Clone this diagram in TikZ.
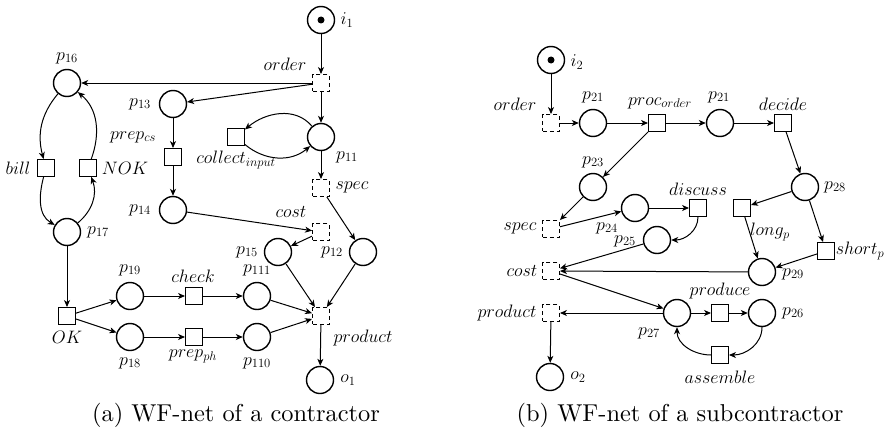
\RequirePackage{fix-cm}
\documentclass[tikz,border=0pt]{standalone}
\usepackage{fontspec}
\newfontfamily\capfont{lmroman10-regular.otf}
\usetikzlibrary{arrows.meta}
\begin{document}
\begin{tikzpicture}[x=1pt,y=-1pt,
  place/.style={circle,draw,line width=1.4pt,minimum size=27pt,inner sep=0pt},
  trans/.style={rectangle,draw,line width=1.4pt,minimum size=16.5pt,inner sep=0pt},
  silent/.style={trans,dash pattern=on 4pt off 3pt},
  flow/.style={-{Stealth[length=7pt,width=6pt,inset=2pt]},line width=1pt},
  lbl/.style={font=\fontsize{18}{20}\selectfont,inner sep=0pt},
  captxt/.style={font=\capfont\fontsize{24.4}{28}\selectfont,inner sep=0pt,anchor=base},
  token/.style={circle,fill,inner sep=0pt,minimum size=7pt}]
\useasboundingbox (0,0) rectangle (893,428);
% ---------- (a) ----------
\node[place] (i1) at (321,20) {};
\node[token] (i1t) at (i1) {};
\node[lbl] (li1) at (347,20) {$i_1$};
\node[silent] (order1) at (321,83) {};
\node[lbl] (lorder1) at (285,64) {$order$};
\node[place] (p11) at (321,137) {};
\node[lbl] (lp11) at (347,157) {$p_{11}$};
\node[silent] (spec1) at (321,188) {};
\node[lbl] (lspec1) at (352,187) {$spec$};
\node[trans] (collect) at (236,137) {};
\node[lbl] (lcollect) at (236,160) {$collect_{input}$};
\node[place] (p16) at (67,83) {};
\node[lbl] (lp16) at (67,58) {$p_{16}$};
\node[place] (p13) at (173,104) {};
\node[lbl] (lp13) at (140,104) {$p_{13}$};
\node[trans] (prepcs) at (173,157) {};
\node[lbl] (lprepcs) at (133,137) {$prep_{cs}$};
\node[place] (p14) at (173,210) {};
\node[lbl] (lp14) at (140,210) {$p_{14}$};
\node[trans] (bill) at (46,168) {};
\node[lbl] (lbill) at (18,168) {$bill$};
\node[trans] (nok) at (88,168) {};
\node[lbl] (lnok) at (125,168) {$NOK$};
\node[place] (p17) at (67,232) {};
\node[lbl] (lp17) at (98,232) {$p_{17}$};
\node[trans] (ok) at (67,316) {};
\node[lbl] (lok) at (67,337) {$OK$};
\node[place] (p19) at (130,296) {};
\node[lbl] (lp19) at (130,270) {$p_{19}$};
\node[place] (p18) at (130,337) {};
\node[lbl] (lp18) at (130,363) {$p_{18}$};
\node[trans] (check) at (194,296) {};
\node[lbl] (lcheck) at (193,276) {$check$};
\node[trans] (prepph) at (194,337) {};
\node[lbl] (lprepph) at (193,356) {$prep_{ph}$};
\node[place] (p111) at (257,296) {};
\node[lbl] (lp111) at (257,270) {$p_{111}$};
\node[place] (p110) at (257,337) {};
\node[lbl] (lp110) at (257,363) {$p_{110}$};
\node[silent] (product1) at (321,316) {};
\node[lbl] (lproduct1) at (363,338) {$product$};
\node[place] (o1) at (320,380) {};
\node[lbl] (lo1) at (348,380) {$o_1$};
\node[silent] (cost1) at (321,232) {};
\node[lbl] (lcost1) at (291,212) {$cost$};
\node[place] (p15) at (278,252) {};
\node[lbl] (lp15) at (247,252) {$p_{15}$};
\node[place] (p12) at (363,252) {};
\node[lbl] (lp12) at (332,252) {$p_{12}$};
\draw[flow] (i1) -- (order1);
\draw[flow] (order1) -- (p11);
\draw[flow] (p11) -- (spec1);
\draw[flow] (order1) -- (p16);
\draw[flow] (order1) -- (p13);
\draw[flow] (p11) to[out=130,in=40] (collect);
\draw[flow] (collect) to[out=-40,in=220] (p11);
\draw[flow] (p13) -- (prepcs);
\draw[flow] (prepcs) -- (p14);
\draw[flow] (p14) -- (cost1);
\draw[flow] (cost1) -- (p15);
\draw[flow] (spec1) -- (p12);
\draw[flow] (p15) -- (product1);
\draw[flow] (p12) -- (product1);
\draw[flow] (p111) -- (product1);
\draw[flow] (p110) -- (product1);
\draw[flow] (product1) -- (o1);
\draw[flow] (p16) to[out=230,in=105] (bill);
\draw[flow] (bill) to[out=255,in=150] (p17);
\draw[flow] (p17) to[out=40,in=-70] (nok);
\draw[flow] (nok) to[out=70,in=-40] (p16);
\draw[flow] (p17) -- (ok);
\draw[flow] (ok) -- (p19);
\draw[flow] (ok) -- (p18);
\draw[flow] (p19) -- (check);
\draw[flow] (check) -- (p111);
\draw[flow] (p18) -- (prepph);
\draw[flow] (prepph) -- (p110);
% ---------- (b) ----------
\node[place] (i2) at (551,60) {};
\node[token] (i2t) at (i2) {};
\node[lbl] (li2) at (577,62) {$i_2$};
\node[silent] (order2) at (551,123) {};
\node[lbl] (lorder2) at (515,104) {$order$};
\node[place] (p21a) at (593,123) {};
\node[lbl] (lp21a) at (593,97) {$p_{21}$};
\node[trans] (proc) at (657,123) {};
\node[lbl] (lproc) at (660,103) {$proc_{order}$};
\node[place] (p21b) at (720,123) {};
\node[lbl] (lp21b) at (719,97) {$p_{21}$};
\node[trans] (decide) at (783,123) {};
\node[lbl] (ldecide) at (783,104) {$decide$};
\node[place] (p28) at (805,187) {};
\node[lbl] (lp28) at (835,187) {$p_{28}$};
\node[place] (p23) at (593,187) {};
\node[lbl] (lp23) at (593,162) {$p_{23}$};
\node[silent] (spec2) at (551,229) {};
\node[lbl] (lspec2) at (520,228) {$spec$};
\node[place] (p24) at (635,208) {};
\node[lbl] (lp24) at (607,228) {$p_{24}$};
\node[trans] (discuss) at (698,208) {};
\node[lbl] (ldiscuss) at (698,189) {$discuss$};
\node[place] (p25) at (657,240) {};
\node[lbl] (lp25) at (625,241) {$p_{25}$};
\node[trans] (longp) at (742,208) {};
\node[lbl] (llongp) at (770,232) {$long_p$};
\node[trans] (shortp) at (826,251) {};
\node[lbl] (lshortp) at (860,251) {$short_p$};
\node[place] (p29) at (762,272) {};
\node[lbl] (lp29) at (793,274) {$p_{29}$};
\node[silent] (cost2) at (551,271) {};
\node[lbl] (lcost2) at (522,271) {$cost$};
\node[place] (p27) at (677,313) {};
\node[lbl] (lp27) at (649,333) {$p_{27}$};
\node[silent] (product2) at (551,313) {};
\node[lbl] (lproduct2) at (507,313) {$product$};
\node[place] (o2) at (550,377) {};
\node[lbl] (lo2) at (578,377) {$o_2$};
\node[trans] (produce) at (720,313) {};
\node[lbl] (lproduce) at (720,291) {$produce$};
\node[place] (p26) at (762,313) {};
\node[lbl] (lp26) at (793,313) {$p_{26}$};
\node[trans] (assemble) at (720,355) {};
\node[lbl] (lassemble) at (720,377) {$assemble$};
\draw[flow] (i2) -- (order2);
\draw[flow] (order2) -- (p21a);
\draw[flow] (p21a) -- (proc);
\draw[flow] (proc) -- (p21b);
\draw[flow] (p21b) -- (decide);
\draw[flow] (decide) -- (p28);
\draw[flow] (proc) -- (p23);
\draw[flow] (p23) -- (spec2);
\draw[flow] (spec2) -- (p24);
\draw[flow] (p24) -- (discuss);
\draw[flow] (discuss) to[out=-90,in=0] (p25);
\draw[flow] (p25) -- (cost2);
\draw[flow] (p29) -- (cost2);
\draw[flow] (cost2) -- (p27);
\draw[flow] (p27) -- (product2);
\draw[flow] (product2) -- (o2);
\draw[flow] (p27) -- (produce);
\draw[flow] (produce) -- (p26);
\draw[flow] (p26) to[out=-90,in=0] (assemble);
\draw[flow] (assemble) to[out=180,in=-90] (p27);
\draw[flow] (p28) -- (longp);
\draw[flow] (longp) -- (p29);
\draw[flow] (p28) -- (shortp);
\draw[flow] (shortp) -- (p29);
% captions
\node[captxt] (capa) at (236,421) {(a) WF-net of a contractor};
\node[captxt] (capb) at (680,421) {(b) WF-net of a subcontractor};
\end{tikzpicture}
\end{document}
